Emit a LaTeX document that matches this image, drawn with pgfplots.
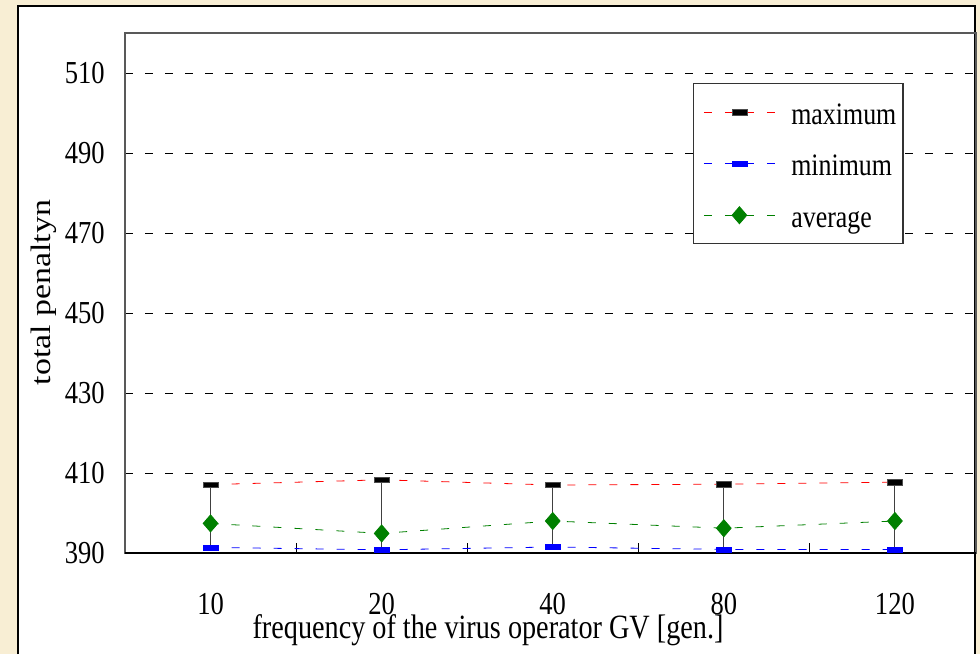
\documentclass[border=0pt]{standalone}
\usepackage{fontspec}
\setmainfont{Liberation Serif}[FakeStretch=0.83]
\newfontfamily\plainserif{Liberation Serif}
\usepackage{graphicx}
\usepackage{pgfplots}
\pgfplotsset{compat=1.18}
\definecolor{cream}{RGB}{248,238,212}
\definecolor{avggreen}{RGB}{0,128,0}

\begin{document}
\begin{tikzpicture}
\begin{scope}[shift={(-93.75pt,414.75pt)}, x=0.75pt, y=-0.75pt]
\fill[cream] (0,0) rectangle (980,654);
\fill[white] (18,6) rectangle (975,654);
\draw[black, line width=1.1pt] (18,654) -- (18,6) -- (975,6) -- (975,654);
\end{scope}
\begin{axis}[
  at={(0,0)}, anchor=south west,
  scale only axis, width=638.25pt, height=390pt,
  xmin=-0.5, xmax=4.474, ymin=390, ymax=520,
  axis line style={draw=black!65, line width=1.3pt},
  ytick={390,410,...,510},
  ymajorgrids,
  grid style={black, dash pattern=on 6pt off 9pt, line width=0.6pt},
  ytick style={draw=none},
  xtick={0.5,1.5,2.5,3.5}, xticklabels={},
  xtick pos=bottom, tick align=inside, major tick length=7.5pt,
  xtick style={black, line width=0.8pt},
  extra x ticks={0,1,2,3,4},
  extra x tick labels={10,20,40,80,120},
  extra x tick style={major tick length=0pt},
  /pgf/number format/assume math mode=true,
  tick label style={font=\fontsize{24}{28}\selectfont},
  yticklabel style={anchor=east, inner sep=0pt, xshift=-15pt},
  xticklabel style={anchor=north, inner sep=0pt, yshift=-30pt},
  xlabel={frequency of the virus operator GV [gen.]},
  xlabel style={at={(axis description cs:0.4266,-0.1635)}, anchor=base, inner sep=0pt, font=\fontsize{25.5}{30}\selectfont},
  ylabel={\scalebox{1}[0.83]{\plainserif\fontsize{25.4}{30}\selectfont total penaltyn}},
  ylabel style={at={(axis description cs:-0.087,0.501)}, anchor=base, inner sep=0pt},
  legend style={at={(axis description cs:0.6675,0.9038)}, anchor=north west,
    draw=black!80, line width=0.8pt, font=\fontsize{23.4}{27}\selectfont,
    legend cell align=left, row sep=12pt, column sep=10pt,
    inner xsep=3pt, inner ysep=8pt,
    nodes={text height=20.45pt, text depth=2.25pt}},
  legend image code/.code={\path (0pt,0pt); \draw[mark repeat=2, mark phase=2] plot coordinates {(4.5pt,0pt) (31.1pt,0pt) (57.7pt,0pt)};},
]
% vertical range lines (min to max)
\addplot[forget plot, black!75, line width=0.8pt] coordinates {(0,391.4) (0,407.1)};
\addplot[forget plot, black!75, line width=0.8pt] coordinates {(1,390.8) (1,408.3)};
\addplot[forget plot, black!75, line width=0.8pt] coordinates {(2,391.5) (2,407.0)};
\addplot[forget plot, black!75, line width=0.8pt] coordinates {(3,390.9) (3,407.2)};
\addplot[forget plot, black!75, line width=0.8pt] coordinates {(4,390.9) (4,407.7)};
% maximum
\addplot[red, line width=0.6pt, dash pattern=on 6pt off 9.75pt,
  mark=square*, mark size=5.6pt,
  mark options={solid, fill=black, draw=black!70, line width=0.3pt, yscale=0.36}]
  coordinates {(0,407.1) (1,408.3) (2,407.0) (3,407.2) (4,407.7)};
\addlegendentry{maximum}
% minimum
\addplot[blue, line width=0.6pt, dash pattern=on 6pt off 9.75pt,
  mark=square*, mark size=5.6pt,
  mark options={solid, fill=blue, draw=blue, line width=0.3pt, yscale=0.36}]
  coordinates {(0,391.4) (1,390.8) (2,391.5) (3,390.9) (4,390.9)};
\addlegendentry{minimum}
% average
\addplot[avggreen, line width=0.6pt, dash pattern=on 6pt off 9.75pt,
  mark=diamond*, mark size=6.4pt,
  mark options={solid, fill=avggreen, draw=avggreen, xscale=1.15}]
  coordinates {(0,397.4) (1,394.9) (2,398.0) (3,396.2) (4,398.0)};
\addlegendentry{average}
\draw[black, line width=1.3pt] (rel axis cs:0,0) -- (rel axis cs:1,0);
\end{axis}
\pgfresetboundingbox
\path[shift={(-93.75pt,414.75pt)}, x=0.75pt, y=-0.75pt] (0,0) rectangle (980,654);
\end{tikzpicture}
\end{document}
